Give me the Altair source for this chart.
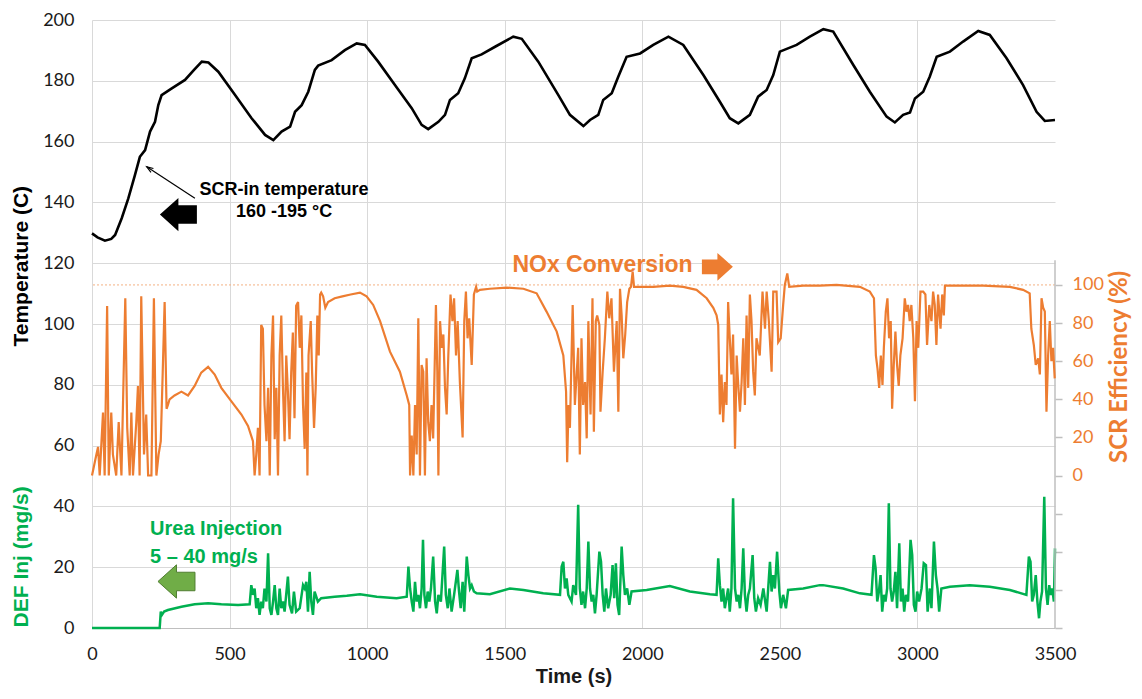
import altair as alt
import pandas as pd

# ---------------- data ----------------
X_TICKS = [0, 500, 1000, 1500, 2000, 2500, 3000, 3500]
Y_TICKS = [0, 20, 40, 60, 80, 100, 120, 140, 160, 180, 200]
EFF_TICKS = [-80, -60, -40, -20, 0, 20, 40, 60, 80, 100]

# SCR-in temperature (C) : (time s, value)
TEMP = [(0,129.8),(20,128.5),(47,127.4),(70,128),(84,129.3),(108,134.8),(132,141.3),(156,149),(174,155),(193,157.2),
        (211,163.3),(229,166.5),(241,172),(253,175.3),(290,177.5),(338,180.3),(370,183.5),(399,186.3),(423,186),
        (459,183),(520,175.3),(580,167.7),(629,162.2),(659,160.5),(689,163.3),(720,164.9),(738,169.8),
        (762,172),(786,176.4),(810,183.6),(822,185),(871,186.8),(919,190.1),(962,192.3),(992,191.8),
        (1040,186.3),(1101,178.6),(1162,171),(1198,165.5),(1222,164.1),(1259,166.5),(1283,168.8),
        (1301,173.7),(1331,175.9),(1355,180.8),(1380,187.4),(1416,188.7),(1465,191.2),(1531,194.5),
        (1562,193.8),(1622,186.3),(1695,175.3),(1737,168.8),(1786,165.1),(1810,167.1),(1840,168.8),
        (1858,173.7),(1889,175.9),(1913,181.4),(1943,187.9),(1992,189),(2040,191.8),(2095,194.5),
        (2149,191.8),(2222,181.9),(2282,173.1),(2318,167.7),(2349,166),(2391,168.8),(2421,174.8),
        (2452,177),(2476,181.9),(2500,189.6),(2561,191.8),(2609,194.5),(2658,197),(2694,196.2),
        (2767,185.2),(2827,176.4),(2888,168.2),(2918,166.3),(2948,168.8),(2973,169.6),(2991,174.2),
        (3021,176.4),(3045,181.4),(3070,187.9),(3118,189.6),(3166,192.9),(3221,196.4),(3263,195.1),
        (3324,187.4),(3384,178.6),(3433,169.8),(3463,166.8),(3500,167.1)]

# SCR efficiency (%) : (time s, value)
EFF = [(0,0),(16,11),(22,15),(28,0),(40,33),(46,0),(55,89),(61,0),(70,33),(76,11),(88,0),(97,28),
       (107,0),(121,93),(128,25),(137,0),(143,33),(149,0),(161,28),(167,47),(173,0),(179,94),(189,11),
       (197,32),(204,0),(216,0),(225,93),(234,0),(242,11),(250,18),(257,54),(264,91),(271,35),(276,37),
       (282,40),(300,42),(325,44),(349,42),(373,47),(397,54),(422,57),(446,53),(470,46),(506,39),
       (543,32),(567,26),(585,18),(591,0),(597,11),(603,25),(609,0),(615,79),(621,77),(627,37),(634,18),
       (640,46),(646,0),(652,63),(658,84),(664,19),(670,46),(676,0),(682,63),(688,84),(694,46),(700,18),
       (706,63),(712,44),(718,19),(724,54),(730,75),(736,30),(742,89),(749,91),(755,67),(761,84),
       (767,37),(773,14),(779,54),(783,0),(787,63),(795,81),(800,54),(807,25),(813,46),(819,84),
       (824,63),(829,95),(833,96),(840,94),(848,88),(858,91),(882,93),(910,94),(940,95),(974,96),
       (998,94),(1022,89.5),(1047,81),(1083,65),(1119,54.5),(1144,42),(1153,37),(1156,0),(1162,21),
       (1168,0),(1174,37),(1180,11),(1186,82.5),(1192,0),(1198,58),(1204,54.5),(1210,0),(1216,61.5),
       (1222,28),(1228,18),(1234,37),(1240,19.5),(1250,89.5),(1255,54.5),(1259,0),(1265,81),(1271,67),
       (1277,74),(1283,46),(1289,32),(1295,63),(1303,95),(1310,81),(1316,93),(1323,63),(1329,81),
       (1337,49),(1347,20),(1353,81),(1359,96.5),(1365,72),(1371,82.5),(1380,58),(1388,95),(1396,99),
       (1400,96.5),(1410,97.4),(1446,98),(1507,98.6),(1568,98),(1616,95.6),(1652,86),(1689,75.5),
       (1713,63),(1723,44),(1727,7),(1732,37),(1737,25),(1747,89.5),(1755,37),(1767,67),(1773,11),
       (1779,72),(1785,37),(1792,49),(1798,19.5),(1804,81),(1812,32),(1819,93),(1824,23),(1831,81),
       (1836,84),(1844,79),(1848,33.5),(1856,54.5),(1864,72),(1873,96.5),(1880,82.5),(1888,93),
       (1897,54.5),(1907,81),(1913,33.5),(1919,98),(1925,84),(1931,61.5),(1938,74),(1945,91),(1953,98),
       (1959,99),(1965,107),(1970,99),(1979,99),(2040,99),(2100,99.6),(2149,99),(2197,97.4),(2234,93),
       (2258,88),(2270,84),(2276,79),(2282,32),(2288,53),(2294,28),(2300,49),(2306,37),(2312,91),
       (2318,72),(2324,53),(2330,74),(2337,14),(2343,63),(2349,47),(2355,33.5),(2361,49),(2367,72),
       (2373,37),(2379,84),(2385,46),(2391,95),(2397,81),(2403,54.5),(2409,42),(2415,72),(2427,63),
       (2437,96.5),(2446,77),(2452,96.5),(2460,81),(2470,54.5),(2476,96.5),(2488,96.5),(2494,70),
       (2503,72),(2512,89.5),(2518,100),(2527,106),(2534,99),(2585,99.6),(2645,99.6),(2706,100),
       (2791,99),(2827,96.5),(2842,93),(2849,63),(2855,56),(2861,46),(2867,63),(2873,47.5),(2878,67),
       (2885,86),(2891,93),(2897,72),(2903,81),(2908,35),(2914,58),(2920,75.5),(2926,58),(2932,47),
       (2938,63),(2946,72),(2954,93),(2960,86),(2966,89.5),(2972,81),(2978,89.5),(2985,72),(2991,39),
       (2997,81),(3003,67),(3011,96.5),(3021,96.5),(3029,95),(3035,68.5),(3043,89.5),(3051,81),
       (3057,96.5),(3063,89.5),(3069,68.5),(3075,95),(3084,77),(3090,95),(3096,84),(3100,99.6),
       (3154,99.6),(3239,99.6),(3336,99),(3384,97.4),(3408,95.6),(3414,77),(3423,68.5),(3430,58),
       (3439,61.5),(3445,53),(3451,93),(3457,88),(3463,86),(3469,33.5),(3475,63),(3481,81),(3487,60),
       (3493,67),(3499,51)]

# DEF injection (mg/s) : (time s, value)
DEF = [(0,0),(246,0),(250,5.4),(254,4.3),(262,5.4),(276,5.9),(325,7),(373,7.8),(422,8.1),(470,7.8),
       (531,7.6),(573,7.8),(579,14.1),(585,10.9),(591,13),(597,6.5),(603,9.8),(609,4.3),(615,8.7),
       (621,6.5),(627,13),(634,8.7),(640,24.6),(646,6.5),(652,4.3),(658,8.7),(664,14.1),(670,6.5),
       (676,4.3),(682,13),(688,6.5),(694,8.7),(700,5.4),(712,16.9),(718,7.6),(727,4.8),(734,12),
       (742,5.4),(755,6.5),(767,14.1),(773,13),(779,15.2),(785,5.4),(791,18.5),(797,8.7),(803,4.3),
       (809,12),(821,8.7),(833,9.8),(882,10.3),(926,10.6),(974,11.1),(1035,10.3),(1107,9.8),
       (1144,10.3),(1150,20.2),(1156,13),(1162,8.7),(1168,5.4),(1174,15.2),(1180,8.7),(1186,10.9),
       (1192,6.5),(1198,13),(1203,29),(1208,10.9),(1214,6.5),(1220,12),(1226,8.7),(1232,13),
       (1240,23.5),(1247,8.7),(1253,4.8),(1259,10.9),(1268,8.7),(1280,26.8),(1286,10.9),(1293,6.5),
       (1299,13),(1307,5.4),(1316,10.9),(1328,19.1),(1334,12),(1340,6.5),(1347,15.2),(1353,5.4),
       (1362,23.5),(1368,17.4),(1374,13),(1380,14.1),(1388,12),(1398,11.4),(1446,11.1),(1519,13),
       (1568,12.5),(1640,11.4),(1701,10.9),(1707,20.2),(1713,21.8),(1719,13),(1725,16.3),(1731,10.9),
       (1743,8.7),(1749,14.1),(1759,10.9),(1767,40.5),(1773,13),(1779,7.6),(1785,12),(1792,6.5),
       (1798,13),(1804,28.4),(1810,13),(1816,8.7),(1822,10.9),(1828,4.8),(1834,10.9),(1844,25.1),
       (1850,21.8),(1856,10.9),(1862,5.4),(1868,13),(1876,6.5),(1885,10.9),(1892,20.7),(1898,9.8),
       (1904,21.3),(1910,7.6),(1916,4.3),(1925,26.8),(1931,17.4),(1937,10.9),(1945,13),(1953,7.6),
       (1961,12),(2016,12.5),(2100,13.8),(2173,12),(2246,11.1),(2270,10.9),(2276,22.9),(2282,14.1),
       (2288,8.7),(2294,13),(2300,6.5),(2306,9.8),(2312,13),(2318,5.4),(2324,13),(2330,42.7),
       (2337,13),(2343,8.7),(2349,10.9),(2355,6.5),(2361,13),(2367,26.2),(2373,10.9),(2379,5.4),
       (2385,10.9),(2391,13),(2401,24),(2407,9.8),(2413,5.4),(2421,9.8),(2430,7.6),(2440,13),
       (2452,5.4),(2464,21.8),(2470,12),(2476,17.4),(2482,13),(2490,25.1),(2498,12),(2504,6.5),
       (2512,10.9),(2522,6.5),(2530,12.5),(2585,13),(2645,14.1),(2657,14.1),(2730,13),(2791,11.4),
       (2833,10.9),(2842,24),(2848,19.6),(2854,8.7),(2860,12),(2866,17.4),(2872,5.4),(2878,10.9),
       (2884,8.7),(2890,13),(2896,41),(2902,13),(2908,8.7),(2914,12),(2920,18.5),(2926,6.5),
       (2934,27.9),(2940,8.7),(2946,13),(2952,5.4),(2958,10.9),(2966,8.7),(2975,29),(2981,24),
       (2987,7.6),(2993,5.4),(2999,12),(3006,8.7),(3015,13),(3023,21.3),(3031,20.7),(3037,5.4),
       (3045,13),(3051,6.5),(3060,28.4),(3067,17.4),(3073,13),(3079,5.4),(3087,13),(3118,13.6),
       (3190,14.1),(3263,13.6),(3336,12.5),(3396,10.9),(3405,23.5),(3411,21.8),(3417,8.7),(3423,10.9),
       (3430,17.4),(3436,8.7),(3442,3.2),(3447,8.7),(3453,12),(3461,43.2),(3467,13),(3473,7.6),
       (3479,14.1),(3484,10.9),(3490,13),(3496,8.7),(3500,26.2)]

ORANGE = "#ED7D31"
GREEN = "#00B050"
GRID = "#D9D9D9"
TITLE_FONT = "Liberation Sans"
LABEL_FONT = "Lato"

temp_df = pd.DataFrame(TEMP, columns=["t", "v"])
eff_df = pd.DataFrame(EFF, columns=["t", "v"])
def_df = pd.DataFrame(DEF, columns=["t", "v"])

LEFT_ARROW = "M -1 0 L 0 -0.9 L 0 -0.5 L 1 -0.5 L 1 0.5 L 0 0.5 L 0 0.9 Z"
RIGHT_ARROW = "M 1 0 L 0 -0.9 L 0 -0.48 L -1 -0.48 L -1 0.48 L 0 0.48 L 0 0.9 Z"
OPEN_HEAD = "M -0.45 1.3 L 0 0 L 0.45 1.3"

x_axis = alt.Axis(values=X_TICKS, format="d", title="Time (s)", grid=True,
                  gridColor={"condition": {"test": "datum.value == 3500", "value": "transparent"}, "value": GRID},
                  domain=True, domainColor="#BFBFBF", ticks=False, labelFlush=False,
                  labelFont=LABEL_FONT, labelFontSize=18, labelColor="#1a1a1a", labelPadding=17,
                  titleFont=TITLE_FONT, titleFontSize=20, titleFontWeight="bold", titleColor="#1a1a1a",
                  titlePadding=3)
left_axis = alt.Axis(values=Y_TICKS, title=None, grid=True, gridColor=GRID, domain=False, ticks=False,
                     labelFont=LABEL_FONT, labelFontSize=18, labelColor="#1a1a1a", labelPadding=18)
right_axis = alt.Axis(values=EFF_TICKS, orient="right", title=None, grid=False, domain=False,
                      ticks=True, tickColor="#BFBFBF", tickSize=7, tickWidth=1.5,
                      labelExpr="datum.value >= 0 ? datum.label : ''",
                      labelFont=LABEL_FONT, labelFontSize=18, labelColor=ORANGE, labelPadding=10)

X = alt.X("t:Q", scale=alt.Scale(domain=[0, 3500], nice=False), axis=x_axis)

# ----- left-scale group -----
temp_line = alt.Chart(temp_df).mark_line(color="black", strokeWidth=2.6).encode(
    x=X, y=alt.Y("v:Q", scale=alt.Scale(domain=[0, 200], nice=False), axis=left_axis))
def_line = alt.Chart(def_df).mark_line(color=GREEN, strokeWidth=2.5).encode(
    x="t:Q", y=alt.Y("v:Q", title=None))

def txt(df, **kw):
    return alt.Chart(df).mark_text(font=TITLE_FONT, fontWeight="bold", **kw).encode(
        x="t:Q", y=alt.Y("v:Q", title=None), text="label:N")

scr_text = txt(pd.DataFrame({"t": [698, 698], "v": [144, 137],
                             "label": ["SCR-in temperature", "160 -195 °C"]}),
               fontSize=18, color="black", align="center", baseline="middle")
nox_text = txt(pd.DataFrame({"t": [2183], "v": [119.4], "label": ["NOx Conversion"]}),
               fontSize=23, color=ORANGE, align="right", baseline="middle")
urea_text = txt(pd.DataFrame({"t": [211, 211], "v": [32.6, 23.4],
                              "label": ["Urea Injection", "5 – 40 mg/s"]}),
                fontSize=20, color=GREEN, align="left", baseline="middle")

black_arrow = alt.Chart(pd.DataFrame({"t": [314], "v": [136]})).mark_point(
    shape=LEFT_ARROW, size=1369, filled=True, color="black", opacity=1).encode(
    x="t:Q", y=alt.Y("v:Q", title=None))
green_arrow = alt.Chart(pd.DataFrame({"t": [307], "v": [15.3]})).mark_point(
    shape=LEFT_ARROW, size=1369, filled=True, fill="#70AD47", stroke="#507E32", strokeWidth=1,
    opacity=1).encode(x="t:Q", y=alt.Y("v:Q", title=None))
orange_arrow = alt.Chart(pd.DataFrame({"t": [2273], "v": [118.8]})).mark_point(
    shape=RIGHT_ARROW, size=961, filled=True, color=ORANGE, opacity=1).encode(
    x="t:Q", y=alt.Y("v:Q", title=None))

pointer = alt.Chart(pd.DataFrame({"t": [374], "v": [141.4], "t2": [199], "v2": [151.7]})).mark_rule(
    color="black", strokeWidth=1.2).encode(x="t:Q", y=alt.Y("v:Q", title=None), x2="t2:Q", y2="v2:Q")
pointer_head = alt.Chart(pd.DataFrame({"t": [199], "v": [151.7]})).mark_point(
    shape=OPEN_HEAD, size=100, filled=False, color="black", strokeWidth=1.2, angle=303, opacity=1).encode(
    x="t:Q", y=alt.Y("v:Q", title=None))

vtitle = lambda df, color: alt.Chart(df).mark_text(
    font=TITLE_FONT, fontWeight="bold", fontSize=21, angle=270, color=color,
    align="center", baseline="middle").encode(
    x=alt.value(-70), y=alt.Y("v:Q", title=None), text="label:N")
temp_title = vtitle(pd.DataFrame({"v": [119], "label": ["Temperature (C)"]}), "black")
def_title = vtitle(pd.DataFrame({"v": [23.4], "label": ["DEF Inj (mg/s)"]}), GREEN)

left = alt.layer(temp_line, def_line, scr_text, nox_text, urea_text, black_arrow, green_arrow,
                 orange_arrow, pointer, pointer_head, temp_title, def_title)

# ----- right-scale group -----
eff_line = alt.Chart(eff_df).mark_line(color=ORANGE, strokeWidth=2.2).encode(
    x="t:Q", y=alt.Y("v:Q", scale=alt.Scale(domain=[-80, 239], nice=False), axis=right_axis))
full_line = alt.Chart(pd.DataFrame({"v": [100]})).mark_rule(
    color="#F4B183", strokeDash=[2, 2], strokeWidth=1).encode(y=alt.Y("v:Q", title=None))
axis_line = alt.Chart(pd.DataFrame({"t": [3500], "v": [-80], "v2": [113]})).mark_rule(
    color="#BFBFBF", strokeWidth=1.5).encode(x="t:Q", y=alt.Y("v:Q", title=None), y2="v2:Q")
eff_title = alt.Chart(pd.DataFrame({"v": [57], "label": ["SCR Efficiency (%)"]})).mark_text(
    font=LABEL_FONT, fontWeight="bold", fontSize=24, angle=270, color=ORANGE,
    align="center", baseline="middle").encode(
    x=alt.value(1028), y=alt.Y("v:Q", title=None), text="label:N")

right = alt.layer(full_line, axis_line, eff_line, eff_title)

chart = alt.layer(left, right).resolve_scale(y="independent").properties(
    width=963, height=608,
    autosize=alt.AutoSizeParams(type="none"),
    padding={"left": 84, "top": 12, "right": 79, "bottom": 60},
).configure_view(stroke=None)

chart.save("out.html", embed_options={"renderer": "svg", "actions": False})
